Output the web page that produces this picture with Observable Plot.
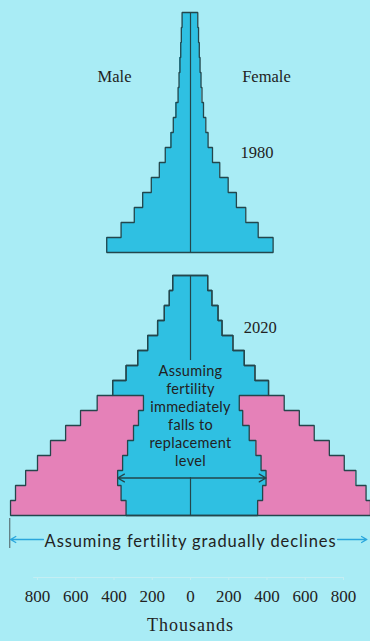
<!DOCTYPE html>
<html><head><meta charset="utf-8">
<script src="https://cdn.jsdelivr.net/npm/d3@7"></script>
<script src="https://cdn.jsdelivr.net/npm/@observablehq/plot@0.6"></script>
<style>
html,body{margin:0;padding:0;background:#a9ecf5;}
#chart{width:370px;height:641px;overflow:hidden}
</style></head><body><div id="chart"></div>
<script>
// ---- data (thousands) ----
const ageGroups = ["0–4","5–9","10–14","15–19","20–24","25–29","30–34","35–39","40–44","45–49","50–54","55–59","60–64","65–69","70–74","75+"];
const male1980   = [438, 363, 294, 250, 205, 163, 132, 102, 90, 76, 65, 60, 55, 51, 48, 44];
const female1980 = [432, 354, 289, 240, 197, 153, 115, 92, 80, 68, 60, 55, 50, 46, 42, 38];
// 2020, assuming fertility immediately falls to replacement level
const male2020Replacement   = [337, 363, 381, 355, 329, 298, 272, 246, 407, 337, 276, 224, 172, 137, 111, 93];
const female2020Replacement = [351, 377, 395, 369, 342, 307, 273, 255, 408, 337, 281, 222, 165, 144, 112, 90];
// 2020, assuming fertility gradually declines
const male2020Gradual   = [941, 915, 862, 800, 732, 653, 575, 488, 407, 337, 276, 224, 172, 137, 111, 93];
const female2020Gradual = [941, 918, 865, 804, 726, 647, 569, 490, 408, 337, 281, 222, 165, 144, 112, 90];
const xTicks = [-800, -600, -400, -200, 0, 200, 400, 600, 800];
const years = ["1980", "2020"];

// ---- style / layout ----
const BG = "#a9ecf5", BLUE = "#2fc0e2", PINK = "#e581b8", LINE = "#23464c", TEXT = "#222", ARROW = "#2aa6dc";
const SERIF = "Liberation Serif, serif", SANS = "Lato, sans-serif";
const base2020 = 0, base1980 = 17.533; // vertical offset of each pyramid (in age-band units)

const rows = (m, f, base) => ageGroups.map((age, i) => ({age, i, m: m[i], f: f[i], y1: base + i, y2: base + i + 1}));
const r1980 = rows(male1980, female1980, base1980);
const rRep = rows(male2020Replacement, female2020Replacement, base2020);
const rGrad = ageGroups.map((age, i) => ({age, i, rm: male2020Replacement[i], rf: female2020Replacement[i], gm: male2020Gradual[i], gf: female2020Gradual[i], y1: base2020 + i, y2: base2020 + i + 1}));

function outline(left, right, base) {
  const pts = [[0, base]];
  left.forEach((v, i) => { pts.push([-v, base + i]); pts.push([-v, base + i + 1]); });
  pts.push([0, base + left.length]);
  for (let i = right.length - 1; i >= 0; i--) { pts.push([right[i], base + i + 1]); pts.push([right[i], base + i]); }
  pts.push([0, base]);
  return pts;
}

const BOTTOM_TEXT = "Assuming fertility gradually declines";
const chart = Plot.plot({
  width: 370, height: 641,
  marginTop: 0, marginBottom: 64, marginLeft: 37, marginRight: 27,
  style: {background: BG, color: TEXT, overflow: "visible"},
  x: {domain: [-800, 800]},
  y: {domain: [-4.133, 34.333], axis: null},
  marks: [
    // fills
    Plot.rect(r1980, {x1: d => -d.m, x2: d => d.f, y1: "y1", y2: "y2", fill: BLUE, shapeRendering: "crispEdges"}),
    Plot.rect(rRep, {x1: d => -d.m, x2: d => d.f, y1: "y1", y2: "y2", fill: BLUE, shapeRendering: "crispEdges"}),
    Plot.rect(rGrad.filter(d => d.gm > d.rm), {x1: d => -d.gm, x2: d => -d.rm, y1: "y1", y2: "y2", fill: PINK, shapeRendering: "crispEdges"}),
    Plot.rect(rGrad.filter(d => d.gf > d.rf), {x1: d => d.rf, x2: d => d.gf, y1: "y1", y2: "y2", fill: PINK, shapeRendering: "crispEdges"}),
    // outlines
    Plot.line(outline(male1980, female1980, base1980), {x: d => d[0], y: d => d[1], stroke: LINE, strokeWidth: 1.3, strokeLinejoin: "miter"}),
    Plot.line(outline(male2020Gradual, female2020Gradual, base2020), {x: d => d[0], y: d => d[1], stroke: LINE, strokeWidth: 1.3, strokeLinejoin: "miter"}),
    Plot.line(outline(male2020Replacement, female2020Replacement, base2020), {x: d => d[0], y: d => d[1], stroke: LINE, strokeWidth: 1.3, strokeLinejoin: "miter"}),
    // center lines
    Plot.ruleX([0], {y1: base1980, y2: base1980 + ageGroups.length, stroke: LINE, strokeWidth: 1.2}),
    Plot.ruleX([0], {y1: base2020 + 10.33, y2: base2020 + ageGroups.length, stroke: LINE, strokeWidth: 1.2}),
    Plot.ruleX([0], {y1: base2020, y2: base2020 + 2.5, stroke: LINE, strokeWidth: 1.2}),
    // replacement-level double arrow
    Plot.arrow([-male2020Replacement[2], female2020Replacement[2]], {x1: 0, x2: d => d, y1: base2020 + 2.5, y2: base2020 + 2.5, stroke: LINE, strokeWidth: 1.3, headLength: 9}),
    // inner annotation
    Plot.text(["Assuming\nfertility\nimmediately\nfalls to\nreplacement\nlevel"], {x: 0, y: base2020 + 6.67, text: d => d, fontFamily: SANS, fontSize: 14.5, lineHeight: 1.24, fill: TEXT}),
    // labels
    Plot.text(["Male"], {x: -397, y: base1980 + 11.74, text: d => d, fontFamily: SERIF, fontSize: 16.5, fill: TEXT}),
    Plot.text(["Female"], {x: 270, y: base1980 + 11.74, text: d => d, textAnchor: "start", fontFamily: SERIF, fontSize: 16.5, fill: TEXT}),
    Plot.text([years[0]], {x: 261, y: base1980 + 6.66, text: d => d, textAnchor: "start", fontFamily: SERIF, fontSize: 16.5, fill: TEXT}),
    Plot.text([years[1]], {x: 279, y: base2020 + 12.52, text: d => d, textAnchor: "start", fontFamily: SERIF, fontSize: 16.5, fill: TEXT}),
    // gradually declines annotation
    Plot.ruleX([-945], {y1: -0.2, y2: -2.2, stroke: "#4a5a5e", strokeWidth: 1}),
    Plot.arrow([[-769, -941], [769, 922]], {x1: d => d[0], x2: d => d[1], y1: -1.6, y2: -1.6, stroke: ARROW, strokeWidth: 1.3, headLength: 7}),
    Plot.text([BOTTOM_TEXT], {x: 0, y: -1.73, text: d => d, fontFamily: SANS, fontSize: 16.5, fill: TEXT}),
    // axis
    Plot.ruleY([-4.133], {x1: -820, x2: 800, stroke: "#c4eef3", strokeWidth: 1}),
    Plot.axisX(xTicks, {anchor: "bottom", tickSize: 3, tickPadding: 9, tickFormat: d => Math.abs(d), fontSize: 17, fontFamily: SERIF, stroke: "#c4eef3", fill: TEXT, label: null}),
    Plot.text(["Thousands"], {x: 0, y: -7.31, text: d => d, fontFamily: SERIF, fontSize: 18, fill: TEXT})
  ]
});
// widen the letter spacing of two labels to match the original typeface widths
d3.select(chart).selectAll("text").each(function () {
  const t = this.textContent;
  if (t === BOTTOM_TEXT) this.setAttribute("letter-spacing", "0.9");
  else if (t === "Thousands") this.setAttribute("letter-spacing", "1");
  else if (t.startsWith("Assuming") && t.includes("level")) this.setAttribute("letter-spacing", "0.3");
});
document.getElementById("chart").appendChild(chart);
</script></body></html>
